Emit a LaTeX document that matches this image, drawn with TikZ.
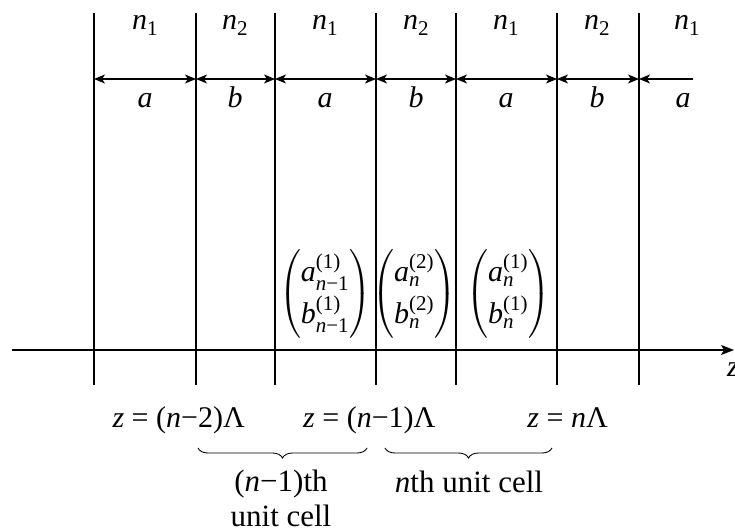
\documentclass[tikz,border=0pt]{standalone}
\usepackage{amsmath}
\usepackage{fontspec}
\setmainfont{Liberation Serif}
\usetikzlibrary{arrows.meta, positioning, decorations.pathreplacing}
\DeclareMathSizes{30}{30}{21}{16}
\newcommand{\mi}[1]{\mathit{#1}}
\newcommand{\tx}[1]{\text{#1}}

\begin{document}
\begin{tikzpicture}[
			x=1pt, y=-1pt,
			every node/.style={font=\fontsize{30}{36}\selectfont, inner sep=0pt},
			%% Line styles
			wall/.style={line width=1.1pt},
			dim/.style={{Stealth[length=11pt,width=9pt,inset=3pt]}-{Stealth[length=11pt,width=9pt,inset=3pt]}, line width=1.1pt},
			halfdim/.style={{Stealth[length=11pt,width=9pt,inset=3pt]}-, line width=1.1pt},
			axis/.style={-{Stealth[length=13pt,width=10pt,inset=3pt]}, line width=1.1pt},
			cellbrace/.style={decorate, decoration={brace, mirror, amplitude=10pt}, line width=0.9pt},
			%% Text styles
			vec/.style={font=\fontsize{30}{35}\selectfont\renewcommand{\arraystretch}{1.0}},
			lbl/.style={align=center, font=\fontsize{31}{35}\selectfont},
			]
			\useasboundingbox (0,0) rectangle (735,529);
			
			%% ── Layer boundaries ─────────────────────────────────────────────
			\foreach \x [count=\i] in {94,196,275,376,456,557,639}{
				\coordinate (top\i) at (\x,13);
				\coordinate (bot\i) at (\x,385);
				\coordinate (dim\i) at (\x,79);
				\draw[wall] (top\i) -- (bot\i);
			}
			\coordinate (dimend) at (693,79);
			
			%% ── Layer widths ─────────────────────────────────────────────────
			\draw[dim] (dim1) -- (dim2);
			\draw[dim] (dim2) -- (dim3);
			\draw[dim] (dim3) -- (dim4);
			\draw[dim] (dim4) -- (dim5);
			\draw[dim] (dim5) -- (dim6);
			\draw[dim] (dim6) -- (dim7);
			\draw[halfdim] (dim7) -- (dimend);
			
			%% Indices above, widths below
			\node[anchor=base] (ida) at (145,30) {$\mi{n}_{\tx{1}}$};
			\node[anchor=base] (idb) at (235,30) {$\mi{n}_{\tx{2}}$};
			\node[anchor=base] (idc) at (325,30) {$\mi{n}_{\tx{1}}$};
			\node[anchor=base] (idd) at (416,30) {$\mi{n}_{\tx{2}}$};
			\node[anchor=base] (ide) at (506,30) {$\mi{n}_{\tx{1}}$};
			\node[anchor=base] (idf) at (597,30) {$\mi{n}_{\tx{2}}$};
			\node[anchor=base] (idg) at (687,30) {$\mi{n}_{\tx{1}}$};
			
			\node[anchor=base] (wa) at (145,108) {\textit{a}};
			\node[anchor=base] (wb) at (235,108) {\textit{b}};
			\node[anchor=base] (wc) at (325,108) {\textit{a}};
			\node[anchor=base] (wd) at (416,108) {\textit{b}};
			\node[anchor=base] (we) at (506,108) {\textit{a}};
			\node[anchor=base] (wf) at (597,108) {\textit{b}};
			\node[anchor=base] (wg) at (683,108) {\textit{a}};
			
			%% ── Field amplitudes ─────────────────────────────────────────────
			\node[vec] (ampa) at (325,294)
			{$\left(\begin{array}{@{}c@{}} \mi{a}_{\mi{n}\tx{−1}}^{\tx{(1)}} \\[4pt] \mi{b}_{\mi{n}\tx{−1}}^{\tx{(1)}} \end{array}\right)$};
			\node[vec] (ampb) at (414,294)
			{$\left(\begin{array}{@{}c@{}} \mi{a}_{\mi{n}}^{\tx{(2)}} \\[4pt] \mi{b}_{\mi{n}}^{\tx{(2)}} \end{array}\right)$};
			\node[vec] (ampc) at (508,294)
			{$\left(\begin{array}{@{}c@{}} \mi{a}_{\mi{n}}^{\tx{(1)}} \\[4pt] \mi{b}_{\mi{n}}^{\tx{(1)}} \end{array}\right)$};
			
			%% ── z axis ───────────────────────────────────────────────────────
			\coordinate (axL) at (12,350);
			\coordinate (axR) at (734,350);
			\draw[axis] (axL) -- (axR);
			\node[anchor=base west] (zlab) at (727,376) {\textit{z}};
			
			%% ── Cell positions and braces ────────────────────────────────────
			\node[anchor=base east] (za) at (245,427) {\textit{z} = (\textit{n}−2)Λ};
			\node[anchor=base west] (zb) at (303,427) {\textit{z} = (\textit{n}−1)Λ};
			\node[anchor=base east] (zc) at (608,427) {\textit{z} = \textit{n}Λ};
			
			\coordinate (bra) at (198,448);
			\coordinate (brb) at (367,448);
			\coordinate (brc) at (385,448);
			\coordinate (brd) at (552,448);
			\draw[cellbrace] (bra) -- (brb);
			\draw[cellbrace] (brc) -- (brd);
			
			\node[lbl, anchor=base] (cella) at (281,526) {(\textit{n}−1)th\\unit cell};
			\node[lbl, anchor=base] (cellb) at (469,492) {\textit{n}th unit cell};
			
		\end{tikzpicture}
\end{document}
